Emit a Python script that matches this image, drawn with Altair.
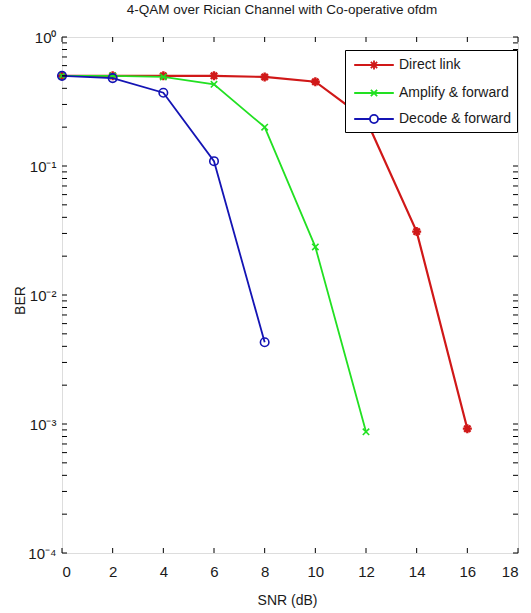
import altair as alt
import pandas as pd

# ---- data ----
series_names = ["Direct link", "Amplify & forward", "Decode & forward"]
series_colors = ["#d01818", "#22e022", "#1414b4"]

snr_direct = [0, 2, 4, 6, 8, 10, 12, 14, 16]
ber_direct = [0.5, 0.5, 0.5, 0.5, 0.49, 0.45, 0.23, 0.031, 0.00092]

snr_af = [0, 2, 4, 6, 8, 10, 12]
ber_af = [0.5, 0.5, 0.49, 0.43, 0.20, 0.0236, 0.00087]

snr_df = [0, 2, 4, 6, 8]
ber_df = [0.5, 0.48, 0.37, 0.109, 0.0043]

x_tick_values = [0, 2, 4, 6, 8, 10, 12, 14, 16, 18]
y_major_values = [1, 0.1, 0.01, 0.001, 0.0001]
y_minor_mult = [1, 2, 3, 4, 5, 6, 7, 8, 9]
y_decades = [0.0001, 0.001, 0.01, 0.1]

W, H = 456, 516
FONT = "Liberation Sans"
TXT = "#1a1a1a"

xscale = alt.Scale(domain=[0, 18], nice=False, zero=False)
yscale = alt.Scale(type="log", domain=[0.0001, 1], nice=False)

x_axis = alt.Axis(values=x_tick_values, grid=False, ticks=False, domain=False,
                  tickSize=0, labelPadding=11, labelFontSize=15, labelFont=FONT,
                  labelColor=TXT, title="SNR (dB)", titleFont=FONT, titleFontSize=14,
                  titleFontWeight="normal", titleColor=TXT, titleX=W / 2 - 3,
                  titleY=47, titleBaseline="middle")
y_axis = alt.Axis(values=y_major_values, grid=False, ticks=False, domain=False,
                  tickSize=0, labelPadding=6, labelFontSize=15, labelFont=FONT,
                  labelColor=TXT,
                  labelExpr="datum.value >= 0.5 ? '10\u2070' : datum.value >= 0.05 ? '10\u207b\u00b9' : datum.value >= 0.005 ? '10\u207b\u00b2' : datum.value >= 0.0005 ? '10\u207b\u00b3' : '10\u207b\u2074'",
                  title="BER", titleFont=FONT, titleFontSize=14, titleFontWeight="normal",
                  titleColor=TXT, titleAngle=270, titleX=-42, titleY=263,
                  titleBaseline="middle", titleAlign="center")

X = lambda: alt.X("snr:Q", scale=xscale, axis=x_axis, title="SNR (dB)")
Y = lambda: alt.Y("ber:Q", scale=yscale, axis=y_axis, title="BER")

df_direct = pd.DataFrame({"snr": snr_direct, "ber": ber_direct, "series": series_names[0]})
df_af = pd.DataFrame({"snr": snr_af, "ber": ber_af, "series": series_names[1]})
df_df = pd.DataFrame({"snr": snr_df, "ber": ber_df, "series": series_names[2]})
df_all = pd.concat([df_direct, df_af, df_df], ignore_index=True)

star = "M0,-1L0,1M-1,0L1,0M-0.7,-0.7L0.7,0.7M-0.7,0.7L0.7,-0.7"
cross = "M-0.8,-0.8L0.8,0.8M-0.8,0.8L0.8,-0.8"

layers = []
specs = [
    (df_direct, series_colors[0], 2.2, star, 81, 2.4),
    (df_af, series_colors[1], 1.8, cross, 64, 1.6),
    (df_df, series_colors[2], 1.8, "circle", 72, 1.6),
]
for df, col, lw, shp, sz, msw in specs:
    layers.append(alt.Chart(df).mark_line(color=col, strokeWidth=lw).encode(x=X(), y=Y()))
    layers.append(alt.Chart(df).mark_point(shape=shp, color=col, size=sz, strokeWidth=msw,
                                           filled=False, opacity=1).encode(x=X(), y=Y()))

# legend layer (invisible marks, legend drawn by the library)
leg_paths = [
    "M-2.2,0L2.2,0M0,-0.5L0,0.5M-0.5,0L0.5,0M-0.35,-0.35L0.35,0.35M-0.35,0.35L0.35,-0.35",
    "M-2.2,0L2.2,0M-0.35,-0.35L0.35,0.35M-0.35,0.35L0.35,-0.35",
    "M-2.2,0L-0.45,0M0.45,0L2.2,0M-0.45,0A0.45,0.45 0 1,0 0.45,0A0.45,0.45 0 1,0 -0.45,0",
]
leg = alt.Legend(title=None, orient="none", legendX=283, legendY=13,
                 strokeColor="black", fillColor="white", padding=5,
                 labelFont=FONT, labelFontSize=14, labelColor=TXT,
                 symbolSize=324, symbolStrokeWidth=1.8, symbolOpacity=1,
                 symbolOffset=14, labelOffset=15, rowPadding=9, cornerRadius=0)
legend_layer = alt.Chart(df_all).mark_point(filled=False, opacity=0).encode(
    x=X(), y=Y(),
    color=alt.Color("series:N", scale=alt.Scale(domain=series_names, range=series_colors),
                    legend=leg, sort=series_names),
    shape=alt.Shape("series:N", scale=alt.Scale(domain=series_names, range=leg_paths),
                    legend=leg, sort=series_names),
)
layers.append(legend_layer)

# inward ticks (box style)
df_xt = pd.DataFrame({"snr": x_tick_values})
y_tick_list = [m * d for d in y_decades for m in y_minor_mult] + [1]
df_yt = pd.DataFrame({"ber": y_tick_list})
tl = 5
layers.append(alt.Chart(df_xt).mark_rule(color="black", strokeWidth=1).encode(
    x=X(), y=alt.value(H - tl), y2=alt.value(H)))
layers.append(alt.Chart(df_xt).mark_rule(color="black", strokeWidth=1).encode(
    x=X(), y=alt.value(0), y2=alt.value(tl)))
layers.append(alt.Chart(df_yt).mark_rule(color="black", strokeWidth=1).encode(
    y=Y(), x=alt.value(0), x2=alt.value(tl)))
layers.append(alt.Chart(df_yt).mark_rule(color="black", strokeWidth=1).encode(
    y=Y(), x=alt.value(W - tl), x2=alt.value(W)))

chart = alt.layer(*layers).properties(
    width=W, height=H,
    title=alt.Title("4-QAM over Rician Channel with Co-operative ofdm", font=FONT,
                    fontSize=13.5, fontWeight="normal", color=TXT, offset=14,
                    anchor="middle", dx=-8),
    autosize=alt.AutoSizeParams(type="none"),
    padding={"left": 62, "top": 37, "right": 13, "bottom": 60},
).configure_view(stroke="black", strokeWidth=1.2).configure(background="white")

chart.save("out.html", embed_options={"renderer": "svg", "actions": False})
